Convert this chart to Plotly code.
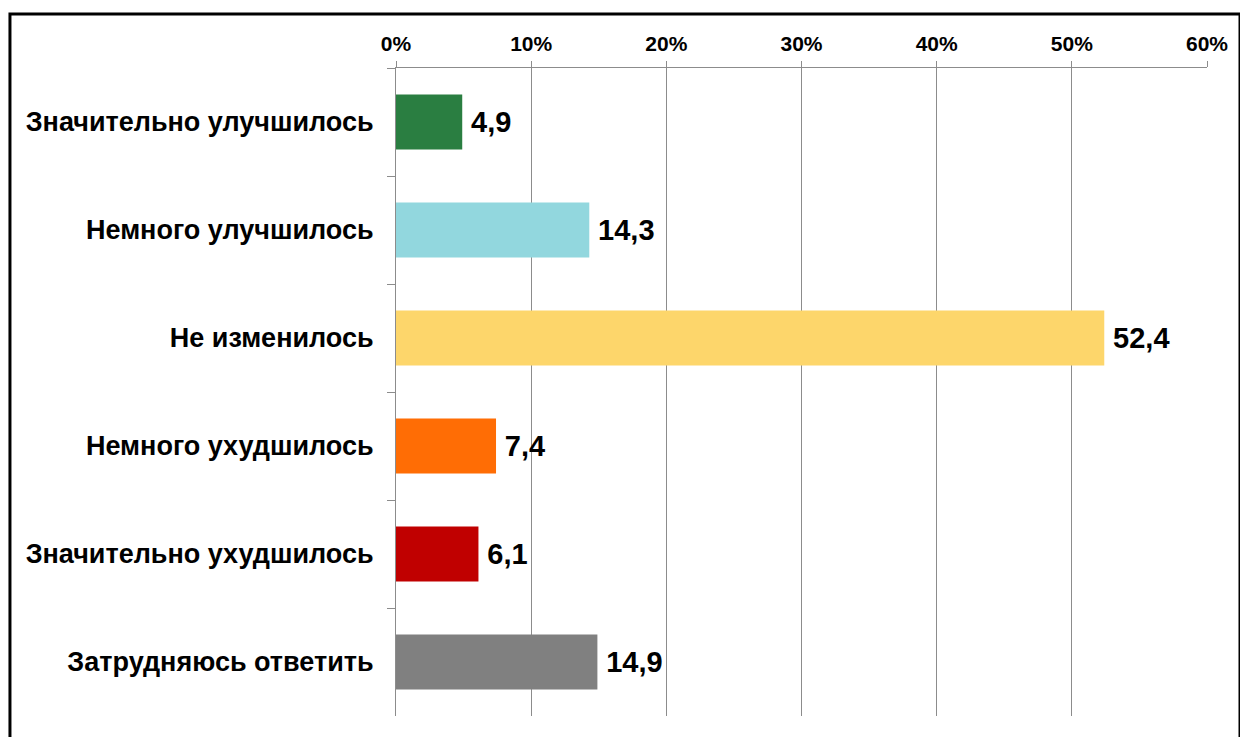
import plotly.graph_objects as go

categories = [
    "Значительно улучшилось",
    "Немного улучшилось",
    "Не изменилось",
    "Немного ухудшилось",
    "Значительно ухудшилось",
    "Затрудняюсь ответить",
]
values = [4.9, 14.3, 52.4, 7.4, 6.1, 14.9]
colors = ["#2A7E41", "#92D7DE", "#FDD66B", "#FF6D05", "#C00000", "#808080"]
x_ticks = [0, 10, 20, 30, 40, 50, 60]
x_tick_labels = ["0%", "10%", "20%", "30%", "40%", "50%", "60%"]

labels = ["\u2009" + f"{v:.1f}".replace(".", ",") for v in values]

FONT = "Liberation Sans, Arial, sans-serif"

fig = go.Figure(go.Bar(
    x=values,
    y=categories,
    orientation="h",
    marker=dict(color=colors, line=dict(width=0)),
    text=labels,
    textposition="outside",
    textfont=dict(family=FONT, size=29, color="black", weight="bold"),
    cliponaxis=False,
))

fig.update_layout(
    width=1240, height=729,
    margin=dict(l=388, r=41, t=60, b=21),
    paper_bgcolor="white",
    plot_bgcolor="white",
    bargap=0.49,
    showlegend=False,
    font=dict(family=FONT, color="black"),
    xaxis=dict(
        side="top",
        range=[0, 60],
        tickvals=x_ticks,
        ticktext=x_tick_labels,
        showgrid=True,
        gridcolor="#8C8C8C",
        gridwidth=1,
        showline=True,
        linecolor="#8C8C8C",
        ticks="outside",
        ticklen=6,
        tickcolor="#8C8C8C",
        tickfont=dict(size=21, weight="bold", color="black"),
        ticklabelstandoff=2,
        zeroline=False,
        fixedrange=True,
    ),
    yaxis=dict(
        autorange="reversed",
        showline=True,
        linecolor="#8C8C8C",
        ticks="outside",
        tickson="boundaries",
        ticklen=8,
        tickcolor="#8C8C8C",
        tickfont=dict(size=27, weight="bold", color="black"),
        ticklabelstandoff=16,
        showgrid=False,
    ),
    shapes=[dict(
        type="rect", xref="paper", yref="paper",
        x0=-0.476, x1=1.0407, y0=-0.2, y1=1.0833,
        line=dict(color="black", width=3),
        fillcolor="rgba(0,0,0,0)",
        layer="below",
    )],
)

fig.write_html("out.html")
